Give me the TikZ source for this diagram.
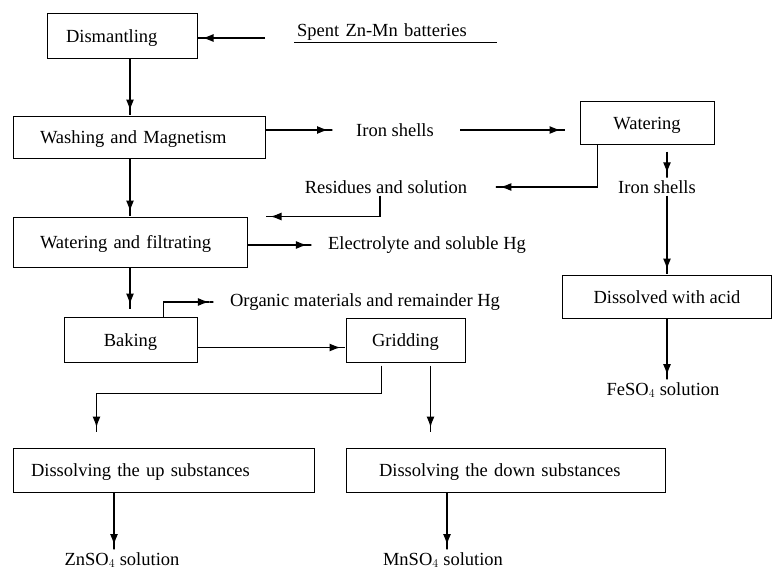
\documentclass[tikz,border=0pt]{standalone}
\usepackage{fontspec}
\setmainfont{Liberation Serif}
\usetikzlibrary{arrows.meta,positioning}

\tikzset{
  stage/.style={draw,line width=1pt,inner sep=0pt,text height=15pt,text depth=2pt,font=\fontsize{18.5}{22}\selectfont},
  item/.style={inner sep=2pt,font=\fontsize{18.5}{22}\selectfont},
  flow/.style={line width=1.2pt,-{Latex[length=11pt,width=8pt,sep=0pt]Rectangle[length=5pt,width=1.2pt]}}
}

\begin{document}
\begin{tikzpicture}[x=1pt,y=-1pt]
  \useasboundingbox (0,0) rectangle (773,573);
  % Process stages
  \node[stage,minimum width=150pt,minimum height=45pt,text width=112pt,align=left] (dis) at (122,35.5) {Dismantling};
  \node[stage,minimum width=252pt,minimum height=42pt,text width=198pt,align=left] (wash) at (139,137) {Washing and Magnetism};
  \node[stage,minimum width=134pt,minimum height=43pt] (wat) at (647,122.5) {Watering};
  \node[stage,minimum width=234pt,minimum height=50pt,text width=180pt,align=left] (filt) at (130,242) {Watering and filtrating};
  \node[stage,minimum width=208.5pt,minimum height=43pt] (acid) at (667,296.5) {Dissolved with acid};
  \node[stage,minimum width=133pt,minimum height=45pt] (bake) at (130.5,339.5) {Baking};
  \node[stage,minimum width=119pt,minimum height=44pt] (grid) at (405.5,340) {Gridding};
  \node[stage,minimum width=301pt,minimum height=44pt,text width=265pt,align=left] (up) at (163.5,470) {Dissolving the up substances};
  \node[stage,minimum width=319pt,minimum height=44pt,text width=253pt,align=left] (down) at (505.5,470) {Dissolving the down substances};
  % Materials and products
  \node[item,anchor=west,text width=197pt,align=left,inner xsep=3pt] (spent) at (294,32) {Spent Zn-Mn batteries};
  \node[item] (iron1) at (395,130) {Iron shells};
  \node[item] (resid) at (386,187) {Residues and solution};
  \node[item] (iron2) at (657,187) {Iron shells};
  \node[item] (elec) at (427,245) {Electrolyte and soluble Hg};
  \node[item] (organ) at (365,302) {Organic materials and remainder Hg};
  \node[item] (fe) at (663,390) {FeSO$_4$ solution};
  \node[item] (zn) at (122,560) {ZnSO$_4$ solution};
  \node[item] (mn) at (443,560) {MnSO$_4$ solution};
  \draw[line width=1.2pt] (spent.south west) -- (spent.south east);
  % Flows
  \coordinate (in) at (265,38);
  \draw[flow] (in) -- (in -| dis.east);
  \draw[flow] (filt.north |- dis.south) -- (filt.north |- wash.north);
  \draw[flow] (filt.north |- wash.south) -- (filt.north);
  \draw[flow] (filt.south) -- ([yshift=7pt]bake.north -| filt.south);
  \draw[flow] (wash.east |- iron1.west) -- ([xshift=-21pt]iron1.west);
  \draw[flow] ([xshift=24pt]iron1.east) -- ([xshift=-14pt]iron1 -| wat.west);
  \draw[flow] ([xshift=18pt]wat.south west) |- ([xshift=26pt]resid.east);
  \draw[flow] ([yshift=-7pt]wat.south -| acid.north) -- (acid.north |- iron2.north);
  \draw[flow] (acid.north |- iron2.south) -- (acid.north);
  \draw[flow] (acid.south) -- (acid.south |- fe.north);
  \draw[flow] ([xshift=-6pt]resid.south) |- ([xshift=18pt]filt.north east);
  \draw[flow] (filt.east |- elec) -- ([xshift=-14pt]elec.west);
  \draw[flow] ([xshift=33pt]bake.north) |- ([xshift=-14pt]organ.west);
  \draw[flow] ([yshift=-8pt]bake.east) -- ([yshift=-8pt]bake.east -| grid.west);
  \draw[flow] ([xshift=-24pt,yshift=-3pt]grid.south) -- ++(0,28) -| ([xshift=84pt,yshift=15pt]up.north west);
  \draw[flow] ([xshift=25pt,yshift=-3pt]grid.south) -- ([xshift=25pt,yshift=15pt]grid.south |- down.north);
  \draw[flow] (up.south -| 114,0) -- (114,550);
  \draw[flow] (down.south -| 447,0) -- (447,550);
\end{tikzpicture}
\end{document}
